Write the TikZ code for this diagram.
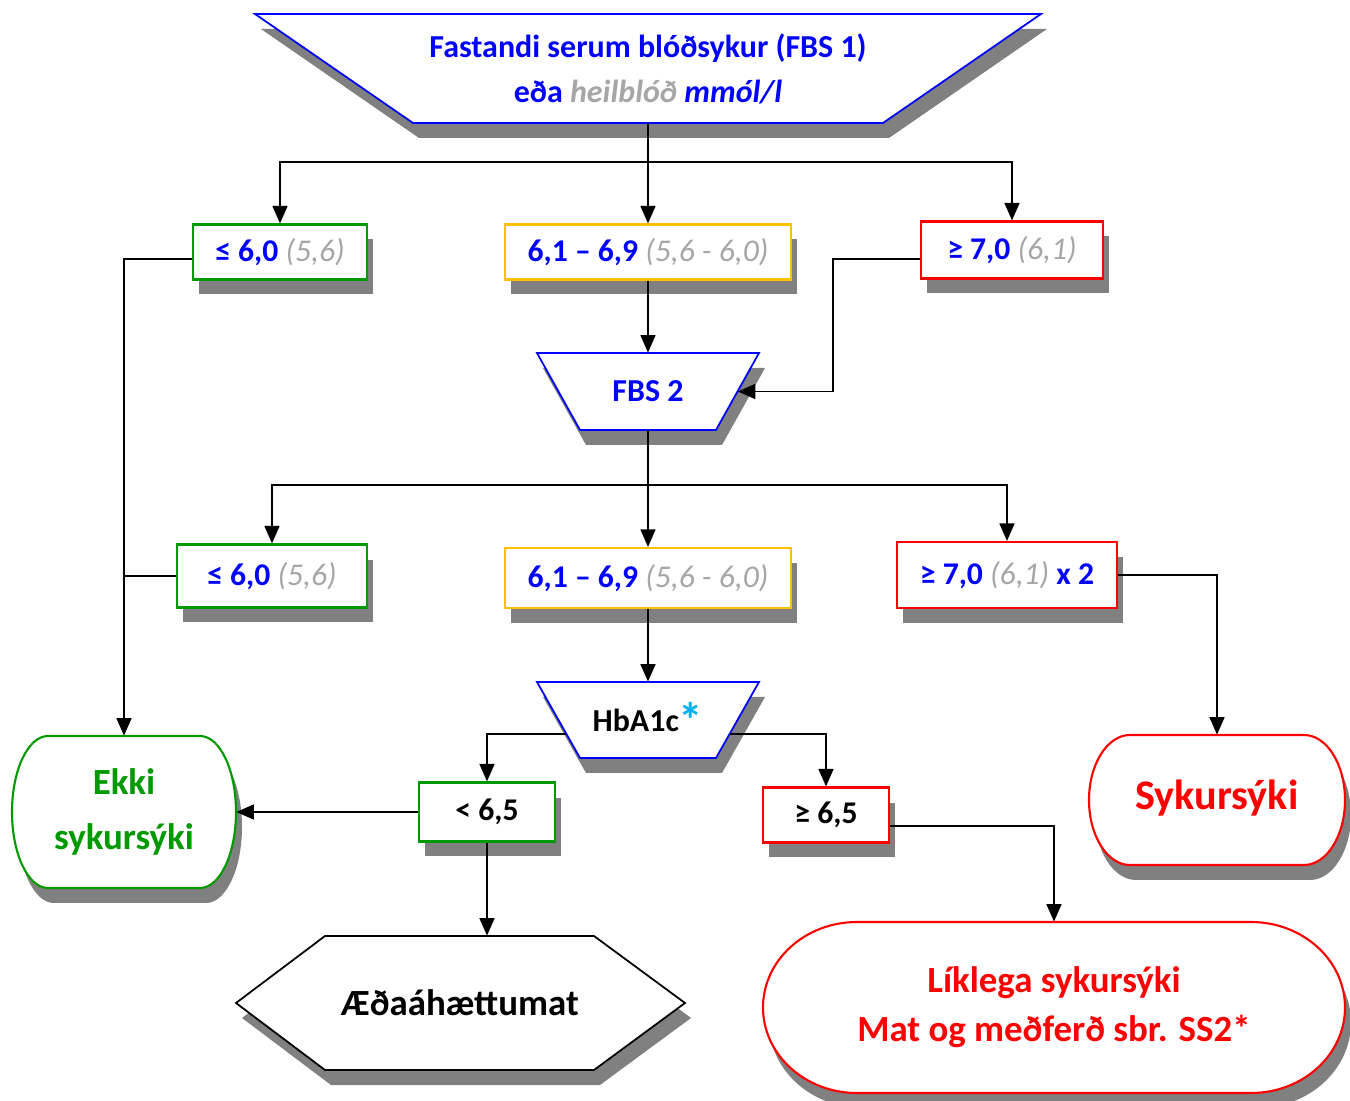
\documentclass[tikz,border=0pt]{standalone}
\usepackage{fontspec}
\setmainfont{Carlito}
\usetikzlibrary{arrows.meta}

\definecolor{fbsblue}{RGB}{0,0,255}
\definecolor{valgray}{RGB}{166,166,166}
\definecolor{okgreen}{RGB}{0,153,0}
\definecolor{midyellow}{RGB}{255,192,0}
\definecolor{highred}{RGB}{255,0,0}
\definecolor{astcyan}{RGB}{0,176,240}
\definecolor{shadowgray}{RGB}{128,128,128}

% value in whole blood (grey, italic)
\newcommand{\heilval}[1]{\textcolor{valgray}{\mdseries\itshape #1}}

\tikzset{
  boxshadow/.style={preaction={draw=none, fill=shadowgray, transform canvas={xshift=0.12cm, yshift=-0.3cm}}},
  valbox/.style={draw, line width=1.2pt, fill=white, inner sep=0pt, boxshadow,
    text=fbsblue, font=\bfseries\fontsize{18}{22}\selectfont},
  greenbox/.style={valbox, draw=okgreen},
  yellowbox/.style={valbox, draw=midyellow},
  redbox/.style={valbox, draw=highred},
  testshape/.style={draw=fbsblue, line width=1pt, fill=white, boxshadow},
  testtext/.style={inner sep=0pt, align=center, text=fbsblue, font=\bfseries\fontsize{18.2}{25.5}\selectfont},
  termgreen/.style={draw=okgreen, line width=1.2pt, fill=white, boxshadow},
  termred/.style={draw=highred, line width=1.2pt, fill=white, boxshadow},
  termtext/.style={inner sep=0pt, align=center},
  link/.style={line width=1.1pt, -{Triangle[length=10pt,width=8.5pt]}},
  joinline/.style={line width=1.1pt}
}

\begin{document}
\begin{tikzpicture}[x=0.02cm, y=-0.02cm]
        \useasboundingbox (0,0) rectangle (1350,1101);

        %Tests
        %FBS 1
        \draw[testshape] (255,14) -- (1041,14) -- (883,123) -- (413,123) -- cycle;
        \node[testtext, minimum width=12cm, minimum height=2.18cm] (fbs1) at (648,68.5)
          {Fastandi serum blóðsykur (FBS 1)\\eða \textcolor{valgray}{\itshape heilblóð} {\itshape mmól/l}};
        %FBS 2
        \draw[testshape] (537,353) -- (759,353) -- (716,430) -- (580,430) -- cycle;
        \node[testtext, minimum width=3.58cm, minimum height=1.54cm] (fbs2) at (648,391.5) {FBS 2};
        %HbA1c
        \draw[testshape] (537,682) -- (759,682) -- (716,758) -- (580,758) -- cycle;
        \node[testtext, text=black, minimum width=3.28cm, minimum height=1.52cm] (hba) at (648,720)
          {\raisebox{0.1cm}{HbA1c\textcolor{astcyan}{\fontsize{28}{28}\selectfont\raisebox{-0.12cm}{*}}}};

        %Layer 1
        \node[greenbox, minimum width=3.48cm, minimum height=1.1cm] (g1) at (280,252)
          {≤ 6,0 \heilval{(5,6)}};
        \node[yellowbox, minimum width=5.72cm, minimum height=1.1cm] (y1) at (648,252)
          {6,1 – 6,9 \heilval{(5,6 - 6,0)}};
        \node[redbox, minimum width=3.64cm, minimum height=1.14cm] (r1) at (1012,250)
          {≥ 7,0 \heilval{(6,1)}};

        %Layer 2
        \node[greenbox, minimum width=3.8cm, minimum height=1.26cm] (g2) at (272,576)
          {≤ 6,0 \heilval{(5,6)}};
        \node[yellowbox, minimum width=5.72cm, minimum height=1.2cm] (y2) at (648,578)
          {6,1 – 6,9 \heilval{(5,6 - 6,0)}};
        \node[redbox, minimum width=4.4cm, minimum height=1.32cm] (r2) at (1007,575)
          {≥ 7,0 \heilval{(6,1)} x 2};

        %Layer 3 (HbA1c)
        \node[greenbox, text=black, minimum width=2.72cm, minimum height=1.18cm] (lt) at (487,812) {< 6,5};
        \node[redbox, text=black, minimum width=2.52cm, minimum height=1.1cm] (ge) at (826,815) {≥ 6,5};

        %Final states
        %left
        \draw[termgreen] (48,736) -- (200,736) arc[start angle=-90, end angle=90, x radius=36, y radius=76]
          -- (48,888) arc[start angle=90, end angle=270, x radius=36, y radius=76] -- cycle;
        \node[termtext, text=okgreen, font=\bfseries\fontsize{21}{29.5}\selectfont,
          minimum width=4.48cm, minimum height=3.04cm] (ekki) at (124,812)
          {\raisebox{-0.06cm}{Ekki}\\\raisebox{-0.12cm}{sykursýki}};
        %right
        \draw[termred] (1130,735) -- (1304,735) arc[start angle=-90, end angle=90, x radius=41, y radius=65]
          -- (1130,865) arc[start angle=90, end angle=270, x radius=41, y radius=65] -- cycle;
        \node[termtext, text=highred, font=\bfseries\fontsize{24}{28}\selectfont,
          minimum width=5.12cm, minimum height=2.6cm] (syk) at (1217,800) {\raisebox{0.22cm}{Sykursýki}};
        %bottom right
        \draw[termred] (857,922) -- (1251,922) arc[start angle=-90, end angle=90, x radius=94, y radius=85.5]
          -- (857,1093) arc[start angle=90, end angle=270, x radius=94, y radius=85.5] -- cycle;
        \node[termtext, text=highred, font=\bfseries\fontsize{21}{28}\selectfont,
          minimum width=11.64cm, minimum height=3.42cm] (lik) at (1054,1007.5)
          {Líklega sykursýki\\Mat og meðferð sbr. SS2*};
        %bottom left
        \draw[line width=1pt, fill=white, boxshadow] (236,1003) -- (325,936) -- (594,936) -- (685,1003)
          -- (594,1070) -- (325,1070) -- cycle;
        \node[termtext, font=\bfseries\fontsize{21}{25}\selectfont,
          minimum width=8.98cm, minimum height=2.68cm] (hex) at (460,1003) {Æðaáhættumat};

        %Edges
        %FBS 1
        \coordinate (s1) at (648,162);
        \draw[link] (fbs1.south) -- (y1.north);
        \draw[link] (s1) -| (g1.north);
        \draw[link] (s1) -| (r1.north);

        %FBS 2
        \draw[link] (y1.south) -- (fbs2.north);
        \draw[link] ([yshift=-0.18cm]r1.west) -- ++(-87,0) |- (fbs2.east);
        \coordinate (s2) at (648,485);
        \draw[link] (fbs2.south) -- (y2.north);
        \draw[link] (s2) -| (g2.north);
        \draw[link] (s2) -| (r2.north);

        %HbA1c
        \draw[link] (y2.south) -- (hba.north);
        \draw[link] ([yshift=-0.28cm]hba.west) -| (lt.north);
        \draw[link] ([yshift=-0.28cm]hba.east) -| (ge.north);

        %to final states
        \draw[link] ([yshift=-0.14cm]g1.west) -| (ekki.north);
        \draw[joinline] (g2.west) -- (g2.west -| ekki.north);
        \draw[link] (lt.west) -- (ekki.east);
        \draw[link] (lt.south) -- (lt.south |- hex.north);
        \draw[link] ([yshift=-0.22cm]ge.east) -| (lik.north);
        \draw[link] (r2.east) -| (syk.north);

\end{tikzpicture}
\end{document}
